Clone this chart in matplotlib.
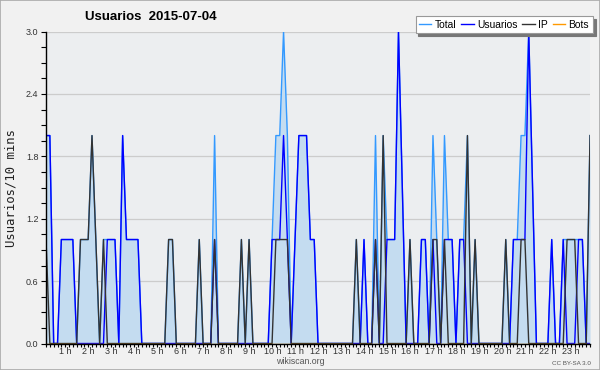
import numpy as np
import matplotlib
matplotlib.use('Agg')
import matplotlib.pyplot as plt
import matplotlib.transforms as mtransforms
from matplotlib.patches import Rectangle

# values every 10 minutes, one row per hour (00:00 .. 23:40)
total = [2, 2, 0, 0, 1, 1,  1, 1, 0, 1, 1, 1,  2, 1, 0, 1, 1, 1,  1, 0, 2, 1, 1, 1,
         1, 0, 0, 0, 0, 0,  0, 0, 1, 1, 0, 0,  0, 0, 0, 0, 1, 0,  0, 0, 2, 0, 0, 0,
         0, 0, 0, 1, 0, 1,  0, 0, 0, 0, 0, 1,  2, 2, 3, 2, 0, 1,  2, 2, 2, 1, 1, 0,
         0, 0, 0, 0, 0, 0,  0, 0, 0, 1, 0, 1,  0, 0, 2, 0, 2, 1,  1, 1, 3, 1.5, 0, 1,
         0, 0, 1, 1, 0, 2,  1, 0, 2, 1, 1, 0,  1, 1, 2, 0, 1, 0,  0, 0, 0, 0, 0, 0,
         1, 0, 1, 1, 2, 2,  3, 1.5, 0, 0, 0, 0,  1, 0, 0, 1, 1, 1,  1, 1, 1, 0, 2]

usuarios = [2, 2, 0, 0, 1, 1,  1, 1, 0, 0, 0, 0,  0, 0, 0, 0, 1, 1,  1, 0, 2, 1, 1, 1,
            1, 0, 0, 0, 0, 0,  0, 0, 0, 0, 0, 0,  0, 0, 0, 0, 0, 0,  0, 0, 1, 0, 0, 0,
            0, 0, 0, 0, 0, 0,  0, 0, 0, 0, 0, 1,  1, 1, 2, 1, 0, 1,  2, 2, 2, 1, 1, 0,
            0, 0, 0, 0, 0, 0,  0, 0, 0, 0, 0, 1,  0, 0, 1, 0, 0, 1,  1, 1, 3, 1.5, 0, 0,
            0, 0, 1, 1, 0, 1,  0, 0, 1, 1, 1, 0,  1, 1, 0, 0, 0, 0,  0, 0, 0, 0, 0, 0,
            0, 0, 1, 1, 1, 1,  3, 1.5, 0, 0, 0, 0,  1, 0, 0, 1, 0, 0,  0, 1, 1, 0, 0]

ip = [1, 0, 0, 0, 0, 0,  0, 0, 0, 1, 1, 1,  2, 1, 0, 1, 0, 0,  0, 0, 0, 0, 0, 0,
      0, 0, 0, 0, 0, 0,  0, 0, 1, 1, 0, 0,  0, 0, 0, 0, 1, 0,  0, 0, 1, 0, 0, 0,
      0, 0, 0, 1, 0, 1,  0, 0, 0, 0, 0, 0,  1, 1, 1, 1, 0, 0,  0, 0, 0, 0, 0, 0,
      0, 0, 0, 0, 0, 0,  0, 0, 0, 1, 0, 0,  0, 0, 1, 0, 2, 0,  0, 0, 0, 0, 0, 1,
      0, 0, 0, 0, 0, 1,  1, 0, 1, 0, 0, 0,  0, 0, 2, 0, 1, 0,  0, 0, 0, 0, 0, 0,
      1, 0, 0, 0, 1, 1,  0, 0, 0, 0, 0, 0,  0, 0, 0, 0, 1, 1,  1, 0, 0, 0, 2]

bots = [0, 0, 0, 0, 0, 0,  0, 0, 0, 0, 0, 0,  0, 0, 0, 0, 0, 0,  0, 0, 0, 0, 0, 0,
        0, 0, 0, 0, 0, 0,  0, 0, 0, 0, 0, 0,  0, 0, 0, 0, 0, 0,  0, 0, 0, 0, 0, 0,
        0, 0, 0, 0, 0, 0,  0, 0, 0, 0, 0, 0,  0, 0, 0, 0, 0, 0,  0, 0, 0, 0, 0, 0,
        0, 0, 0, 0, 0, 0,  0, 0, 0, 0, 0, 0,  0, 0, 0, 0, 0, 0,  0, 0, 0, 0, 0, 0,
        0, 0, 0, 0, 0, 0,  0, 0, 0, 0, 0, 0,  0, 0, 0, 0, 0, 0,  0, 0, 0, 0, 0, 0,
        0, 0, 0, 0, 0, 0,  0, 0, 0, 0, 0, 0,  0, 0, 0, 0, 0, 0,  0, 0, 0, 0, 0]

hour_labels = ['%d h' % h for h in range(1, 24)]
y_ticks = [0.0, 0.6, 1.2, 1.8, 2.4, 3.0]

x = np.arange(len(total))

fig = plt.figure(figsize=(6, 3.7), dpi=100, facecolor='#f1f1f1')
ax = fig.add_axes([0.0767, 0.0716, 0.9067, 0.843])
ax.set_facecolor('#eceef0')

ax.fill_between(x, total, color='#c4dcf0', lw=0)
ax.plot(x, total, color='#3399ff', lw=1, label='Total')
ax.plot(x, usuarios, color='#0000ff', lw=1, label='Usuarios')
ax.plot(x, ip, color='#333333', lw=1, label='IP')
ax.plot(x, bots, color='#ff9900', lw=1, label='Bots')

ax.set_xlim(0, 142)
ax.set_ylim(0, 3)

# y axis
ax.set_yticks(y_ticks)
ax.set_yticklabels(['%.1f' % v for v in y_ticks], fontsize=6.5, color='#333333',
                   family='Liberation Sans')
ax.set_yticks(np.arange(0, 3.01, 0.15), minor=True)
ax.yaxis.grid(True, color='#cccccc', lw=0.9)
ax.set_axisbelow(True)
ax.set_ylabel('Usuarios/10 mins', family='DejaVu Sans Mono', fontsize=8.8,
              color='#222222', labelpad=6)

# x axis: hours, minor ticks every 10 min
ax.set_xticks(np.arange(6, 139, 6))
ax.set_xticklabels(hour_labels, fontsize=6.5, color='#333333', family='Liberation Sans')
ax.set_xticks(x, minor=True)
ax.tick_params(axis='x', which='major', length=2.5, width=0.8, pad=0.5)
ax.tick_params(axis='x', which='minor', length=2.5, width=0.8)
ax.tick_params(axis='y', which='both', length=3.5, width=0.8, pad=2)
shift = mtransforms.ScaledTranslation(-0.035, 0.01, fig.dpi_scale_trans)
for lab in ax.get_xticklabels():
    lab.set_transform(lab.get_transform() + shift)

for s in ['top', 'right']:
    ax.spines[s].set_visible(False)
for s in ['left', 'bottom']:
    ax.spines[s].set_linewidth(1)
    ax.spines[s].set_color('black')

fig.text(0.252, 0.955, 'Usuarios  2015-07-04', ha='center', va='center',
         fontsize=9.5, fontweight='bold', family='Liberation Sans')

leg = fig.legend(loc='upper right', bbox_to_anchor=(0.988, 0.957), ncol=4,
                 prop={'family': 'Liberation Sans', 'size': 7.4},
                 frameon=True, fancybox=False, shadow={'color': '#777777', 'alpha': 1},
                 handlelength=1.2, handletextpad=0.35, columnspacing=0.45,
                 borderpad=0.35, borderaxespad=0)
leg.get_frame().set_edgecolor('#999999')
leg.get_frame().set_linewidth(0.8)

fig.text(0.5, 0.022, 'wikiscan.org', ha='center', va='center', fontsize=6.3,
         color='#555555', family='Liberation Sans')
fig.text(0.985, 0.017, 'CC BY-SA 3.0', ha='right', va='center', fontsize=4.5,
         color='#555555', family='Liberation Sans')

fig.patches.append(Rectangle((0, 0), 1, 1, transform=fig.transFigure, fill=False,
                             edgecolor='#aaaaaa', lw=1.2))

fig.savefig('out.png', dpi=100, facecolor=fig.get_facecolor())
